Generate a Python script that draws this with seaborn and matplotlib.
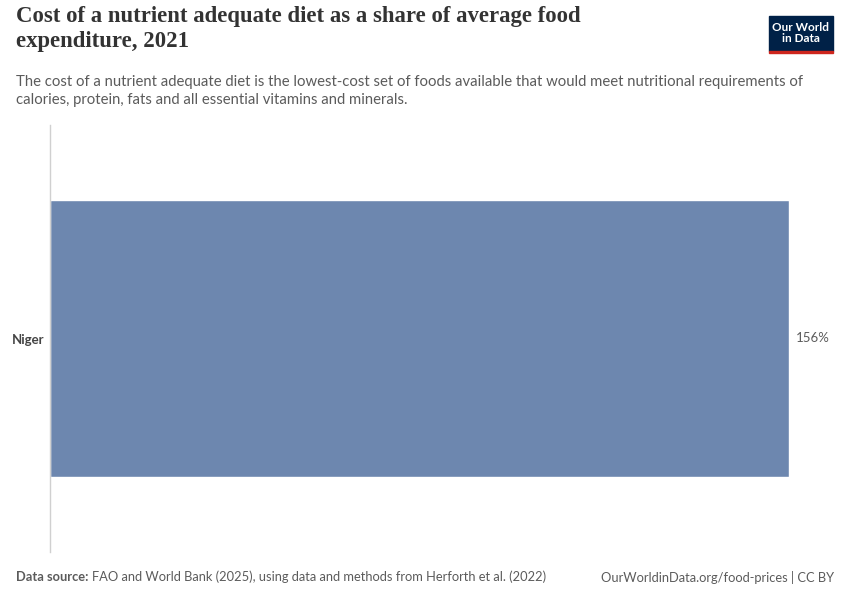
import matplotlib.pyplot as plt
import matplotlib.patches as mpatches
import seaborn as sns
import pandas as pd

# data
countries = ['Niger']
shares = [156]

df = pd.DataFrame({'country': countries, 'share': shares})

sns.set_style('white')
plt.rcParams['font.family'] = ['Lato', 'DejaVu Sans']

fig = plt.figure(figsize=(8.5, 6), dpi=100)
ax = fig.add_axes([50 / 850, 1 - 552 / 600, (789 - 50) / 850, (552 - 125) / 600])

sns.barplot(data=df, x='share', y='country', orient='h', color='#6d87af',
            saturation=1, width=0.65, ax=ax)

ax.set_xlim(0, max(shares))
ax.set_xticks([])
ax.set_xlabel('')
ax.set_ylabel('')
for s in ['top', 'right', 'bottom']:
    ax.spines[s].set_visible(False)
ax.spines['left'].set_color('#d0d0d0')
ax.spines['left'].set_linewidth(1)
ax.tick_params(axis='y', length=0, pad=4)
for lab in ax.get_yticklabels():
    lab.set_fontweight('bold')
    lab.set_fontsize(9.5)
    lab.set_color('#444444')

ax.bar_label(ax.containers[0], labels=[f'{v}%' for v in shares], padding=5,
             fontsize=9.5, color='#5b5b5b')

# title and subtitle
fig.text(16 / 850, 1 - 29 / 600, 'Cost of a nutrient adequate diet as a share of average food\nexpenditure, 2021',
         family=['Liberation Serif', 'DejaVu Serif'], fontsize=16.4, fontweight='bold', color='#333333',
         va='center', ha='left', linespacing=1.25)
fig.text(16 / 850, 1 - 91 / 600,
         'The cost of a nutrient adequate diet is the lowest-cost set of foods available that would meet nutritional requirements of\n'
         'calories, protein, fats and all essential vitamins and minerals.',
         fontsize=10.7, color='#5b5b5b', va='center', ha='left', linespacing=1.4)

# footer
fig.text(16 / 850, 1 - 577 / 600, 'Data source:', fontsize=9.3, color='#5b5b5b',
         fontweight='bold', va='center', ha='left')
fig.text(92 / 850, 1 - 577 / 600,
         'FAO and World Bank (2025), using data and methods from Herforth et al. (2022)',
         fontsize=9.3, color='#5b5b5b', va='center', ha='left')
fig.text(834 / 850, 1 - 577 / 600, 'OurWorldinData.org/food-prices | CC BY',
         fontsize=9.3, color='#5b5b5b', va='center', ha='right')

# logo
fig.patches.append(mpatches.Rectangle((769 / 850, 1 - 51 / 600), 64 / 850, 35 / 600,
                                      transform=fig.transFigure, color='#002147'))
fig.patches.append(mpatches.Rectangle((769 / 850, 1 - 53 / 600), 64 / 850, 2.5 / 600,
                                      transform=fig.transFigure, color='#ce261e'))
fig.text(801 / 850, 1 - 33 / 600, 'Our World\nin Data', fontsize=8.5, fontweight='bold',
         color='white', ha='center', va='center', linespacing=1.05)

fig.savefig('out.png', dpi=100)
